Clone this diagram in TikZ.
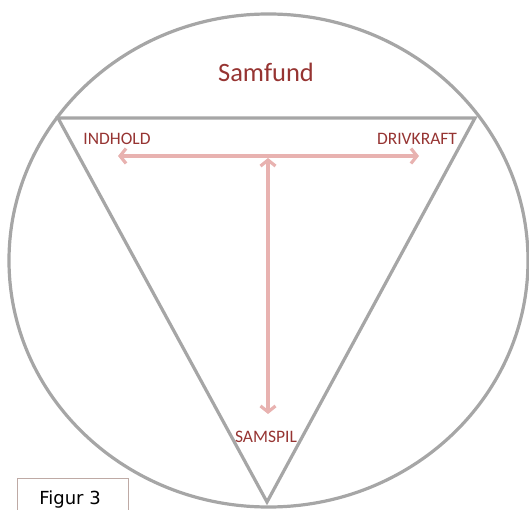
\documentclass[tikz,border=0pt]{standalone}
\usepackage{fontspec}
\setmainfont{Carlito}
\newfontfamily\figfont{DejaVu Sans}
\usetikzlibrary{arrows.meta}
\definecolor{linegray}{RGB}{166,166,166}
\definecolor{textred}{RGB}{150,52,50}
\definecolor{arrowpink}{RGB}{232,178,176}
\definecolor{boxborder}{RGB}{190,170,165}
\tikzset{
  frame/.style={draw=linegray, line width=3.2pt},
  lbl/.style={text=textred, font=\fontsize{17.5}{20}\selectfont, inner sep=0pt},
  link/.style={draw=arrowpink, line width=3.2pt, {Straight Barb[length=6pt,width=15pt]}-{Straight Barb[length=6pt,width=15pt]}},
}
\begin{document}
\begin{tikzpicture}[x=1pt,y=-1pt]
\useasboundingbox (0,0) rectangle (529,510);
\clip (0,0) rectangle (529,510);
\draw[frame] (268.5,260.5) ellipse [x radius=259.5, y radius=246.5];
\coordinate (tl) at (58,118);
\coordinate (tr) at (475,118);
\coordinate (bt) at (267,502);
\draw[frame, line join=miter] (tl) -- (tr) -- (bt) -- cycle;
\node[text=textred, font=\fontsize{26.5}{30}\selectfont, inner sep=0pt] (samfund) at (266,72) {Samfund};
\node[lbl] (indhold) at (117,139) {INDHOLD};
\node[lbl] (drivkraft) at (417,139) {DRIVKRAFT};
\node[lbl] (samspil) at (266,437) {SAMSPIL};
\coordinate (hl) at (118,156);
\coordinate (hr) at (419,156);
\coordinate (vt) at (268,158);
\coordinate (vb) at (268,414);
\draw[link] (hl) -- (hr);
\draw[link] (vt) -- (vb);
\draw[draw=boxborder, line width=1pt, fill=white] (17,478) rectangle (128,530);
\node[font=\figfont\fontsize{18}{20}\selectfont, inner sep=0pt, anchor=base] (figur) at (70,504.5) {Figur 3};
\end{tikzpicture}
\end{document}
